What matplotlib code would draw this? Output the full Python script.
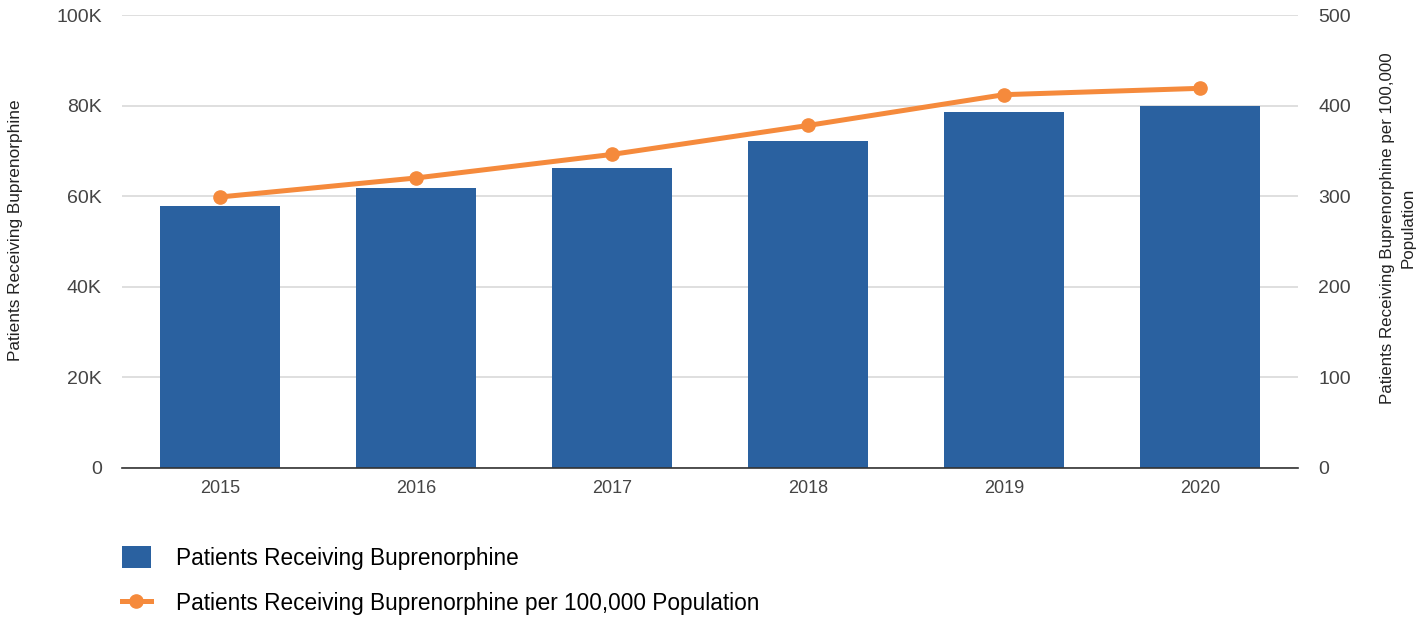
import matplotlib
matplotlib.use("Agg")
import matplotlib.pyplot as plt
from matplotlib.ticker import FuncFormatter

plt.rcParams['font.family'] = ['Liberation Sans', 'DejaVu Sans']

years = ['2015', '2016', '2017', '2018', '2019', '2020']
patients = [57800, 61700, 66100, 72200, 78600, 79800]
per_100k = [299, 320, 346, 378, 412, 419]

bar_color = '#2a61a0'
line_color = '#f58a3c'
tick_color = '#444444'
label_color = '#222222'

W, H = 1426, 617
fig = plt.figure(figsize=(W / 100, H / 100), dpi=100)
ax = fig.add_axes([122 / W, 1 - 467.7 / H, 1176 / W, (467.7 - 15) / H])
ax2 = ax.twinx()

x = range(len(years))
ax.bar(x, patients, width=0.617, color=bar_color, zorder=2,
       label='Patients Receiving Buprenorphine')
ax2.plot(x, per_100k, color=line_color, linewidth=3.6, marker='o', markersize=9.5,
         zorder=3, label='Patients Receiving Buprenorphine per 100,000 Population')

ax.set_xlim(-0.5, len(years) - 0.5)
ax.set_ylim(0, 100000)
ax2.set_ylim(0, 500)
ax.set_yticks(range(0, 100001, 20000))
ax2.set_yticks(range(0, 501, 100))
ax.yaxis.set_major_formatter(FuncFormatter(lambda v, p: '0' if v == 0 else f'{int(v / 1000)}K'))

ax.set_xticks(list(x))
ax.set_xticklabels(years)

ax.grid(axis='y', color='#d9d9d9', linewidth=1.2, zorder=0)
ax.set_axisbelow(True)

for a in (ax, ax2):
    for s in ('top', 'left', 'right', 'bottom'):
        a.spines[s].set_visible(False)
ax.spines['bottom'].set_visible(True)
ax.spines['bottom'].set_color('#333333')
ax.spines['bottom'].set_linewidth(1.2)

ax.tick_params(axis='y', length=0, labelsize=14, labelcolor=tick_color, pad=14.5)
ax2.tick_params(axis='y', length=0, labelsize=14, labelcolor=tick_color, pad=14.5)
ax.tick_params(axis='x', length=0, labelsize=13, labelcolor=tick_color, pad=9)

# axis titles placed as figure text so both sides sit at fixed positions
fig.text(16 / W, 1 - 230 / H, 'Patients Receiving Buprenorphine', rotation=90,
         ha='center', va='center', fontsize=12.4, color=label_color)
fig.text(1398 / W, 1 - 228 / H, 'Patients Receiving Buprenorphine per 100,000\nPopulation',
         rotation=90, ha='center', va='center', multialignment='center',
         fontsize=12.2, color=label_color, linespacing=1.5)

h1, l1 = ax.get_legend_handles_labels()
h2, l2 = ax2.get_legend_handles_labels()
fig.legend(h1 + h2, l1 + l2, loc='upper left', bbox_to_anchor=(0.079, 0.13),
           frameon=False, fontsize=16.3, handlelength=1.3, handleheight=1.15,
           labelspacing=0.95, handletextpad=1.1, borderaxespad=0)

fig.savefig('out.png', dpi=100)
